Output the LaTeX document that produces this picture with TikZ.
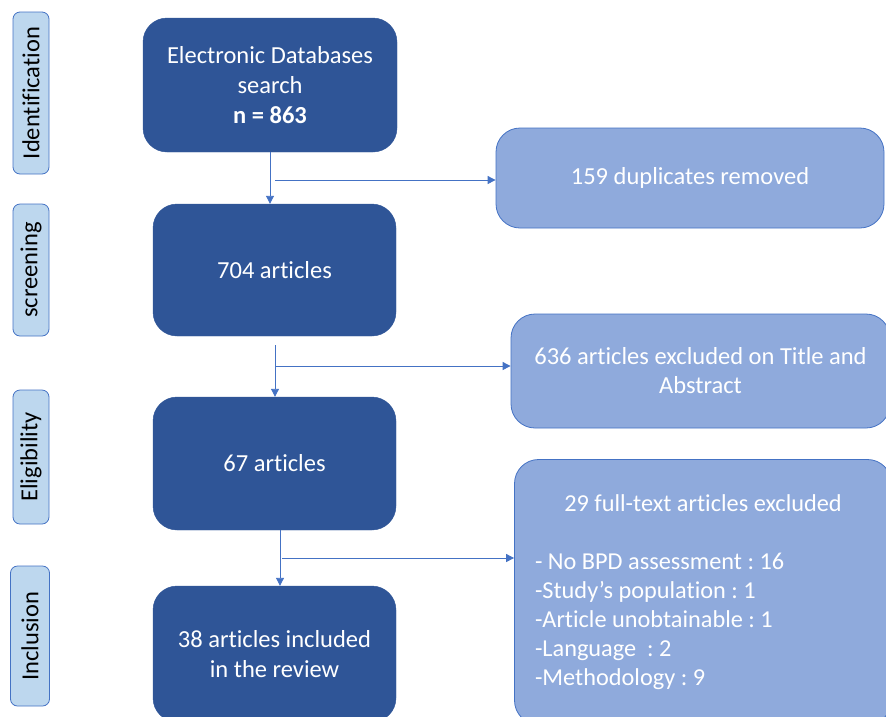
\documentclass[tikz,border=0pt]{standalone}
\usepackage{fontspec}
\setmainfont{Carlito}[Ligatures=NoCommon]
\usetikzlibrary{arrows.meta}
\frenchspacing

\definecolor{darkblue}{HTML}{2F5597}
\definecolor{midblue}{HTML}{8FAADC}
\definecolor{paleblue}{HTML}{BDD7EE}
\definecolor{lineblue}{HTML}{4472C4}

\tikzset{
  phase/.style={draw=lineblue, fill=paleblue, rounded corners=7pt, line width=0.8pt,
    rotate=90, minimum height=36pt, inner sep=0pt, font=\fontsize{24.5}{30}\selectfont},
  stage/.style={draw=darkblue, fill=darkblue, rounded corners=24pt, text=white,
    align=center, inner sep=0pt, font=\fontsize{24.5}{30}\selectfont},
  outbox/.style={draw=lineblue, fill=midblue, rounded corners=24pt, text=white,
    align=center, inner sep=0pt, line width=0.8pt, font=\fontsize{24.5}{29}\selectfont},
  flow/.style={draw=lineblue, line width=0.9pt, -{Triangle[length=8pt,width=8pt]}}
}

\begin{document}
\begin{tikzpicture}[x=1pt, y=-1pt]
  \useasboundingbox (0,0) rectangle (886,716);

  % phase labels on the left
  \node[phase, minimum width=162pt] (ident) at (31,93) {Identification};
  \node[phase, minimum width=132pt] (screen) at (31,270) {screening};
  \node[phase, minimum width=134pt] (elig) at (31,457) {Eligibility};
  \node[phase, minimum width=140pt, minimum height=39pt] (incl) at (30,636) {Inclusion};

  % main flow
  \node[stage, minimum width=254pt, minimum height=134pt] (search) at (270,85)
    {Electronic Databases\\search\\\textbf{n = 863}};
  \node[stage, minimum width=243pt, minimum height=132pt] (screened) at (274.5,270) {704 articles};
  \node[stage, minimum width=243pt, minimum height=133pt] (eligible) at (274.5,463.5) {67 articles};
  \node[stage, minimum width=243pt, minimum height=136pt] (included) at (274.5,654)
    {38 articles included\\in the review};

  % excluded records
  \node[outbox, minimum width=388pt, minimum height=100pt] (dupl) at (690,178) {159 duplicates removed};
  \node[outbox, minimum width=379pt, minimum height=114pt] (excl1) at (700.5,371)
    {636 articles excluded on Title and\\Abstract};
  \node[outbox, minimum width=377pt, minimum height=265pt, text width=336pt, align=left,
    font=\fontsize{24.3}{29}\selectfont] (excl2) at (703,592)
    {\spaceskip=0pt\xspaceskip=0pt
     {\centering 29 full-text articles excluded\par}\vspace{29pt}
     - No BPD assessment : 16\\
     -Study’s population : 1\\
     -Article unobtainable : 1\\
     -Language~~: 2\\
     -Methodology : 9};

  % connectors
  \coordinate (v1) at (270,152);
  \coordinate (h1) at (275,180);
  \coordinate (v2) at (275,345);
  \coordinate (h2) at (276,366);
  \coordinate (v3) at (280,530);
  \coordinate (h3) at (282,558);
  \draw[flow] (v1) -- (v1 |- screened.north);
  \draw[flow] (h1) -- (h1 -| dupl.west);
  \draw[flow] (v2) -- (v2 |- eligible.north);
  \draw[flow] (h2) -- (h2 -| excl1.west);
  \draw[flow] (v3) -- (v3 |- included.north);
  \draw[flow] (h3) -- (h3 -| excl2.west);
\end{tikzpicture}
\end{document}
